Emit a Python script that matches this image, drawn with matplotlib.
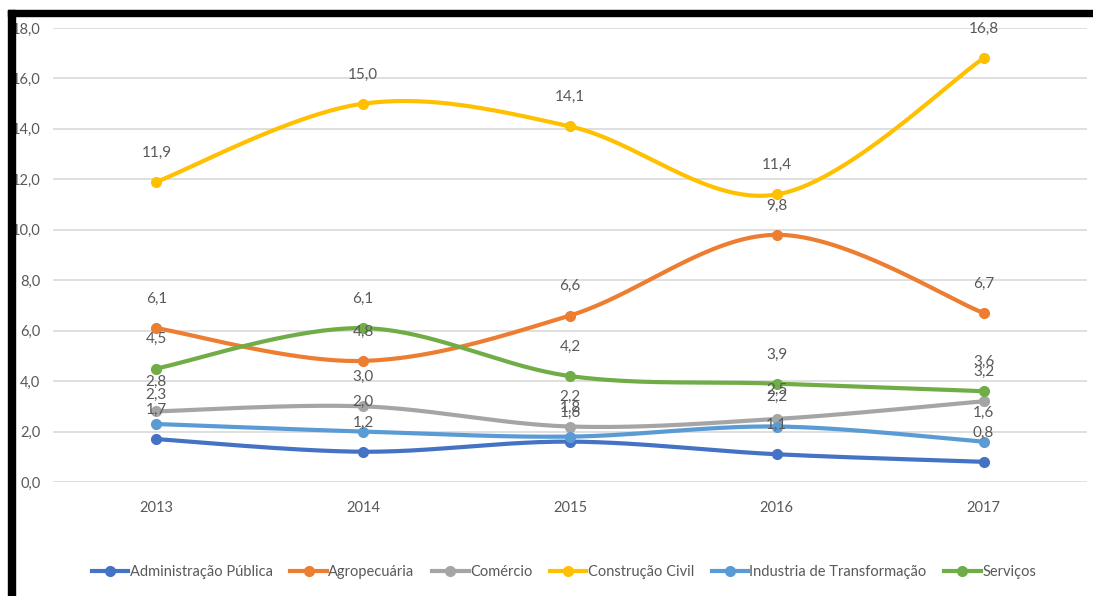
import numpy as np
import matplotlib
matplotlib.use('Agg')
import matplotlib.pyplot as plt
from matplotlib.patches import Rectangle
from matplotlib.lines import Line2D

plt.rcParams['font.family'] = ['Lato', 'DejaVu Sans']

years = ['2013', '2014', '2015', '2016', '2017']
admin_publica = [1.7, 1.2, 1.6, 1.1, 0.8]
agropecuaria = [6.1, 4.8, 6.6, 9.8, 6.7]
comercio = [2.8, 3.0, 2.2, 2.5, 3.2]
construcao_civil = [11.9, 15.0, 14.1, 11.4, 16.8]
industria = [2.3, 2.0, 1.8, 2.2, 1.6]
servicos = [4.5, 6.1, 4.2, 3.9, 3.6]

series = [
    ('Administração Pública', admin_publica, '#4472C4'),
    ('Agropecuária', agropecuaria, '#ED7D31'),
    ('Comércio', comercio, '#A5A5A5'),
    ('Construção Civil', construcao_civil, '#FFC000'),
    ('Industria de Transformação', industria, '#5B9BD5'),
    ('Serviços', servicos, '#70AD47'),
]

text_color = '#595959'


def smooth(x, y, n=40):
    # excel-like smoothed line: cubic bezier with catmull-rom control points
    x = np.asarray(x, float)
    y = np.asarray(y, float)
    px = np.concatenate([[x[0]], x, [x[-1]]])
    py = np.concatenate([[y[0]], y, [y[-1]]])
    xs, ys = [], []
    t = np.linspace(0, 1, n)
    for i in range(1, len(px) - 2):
        p0 = np.array([px[i], py[i]])
        p3 = np.array([px[i + 1], py[i + 1]])
        c1 = p0 + (np.array([px[i + 1], py[i + 1]]) - np.array([px[i - 1], py[i - 1]])) / 6
        c2 = p3 - (np.array([px[i + 2], py[i + 2]]) - np.array([px[i], py[i]])) / 6
        b = ((1 - t) ** 3)[:, None] * p0 + (3 * (1 - t) ** 2 * t)[:, None] * c1 \
            + (3 * (1 - t) * t ** 2)[:, None] * c2 + (t ** 3)[:, None] * p3
        xs.extend(b[:, 0])
        ys.extend(b[:, 1])
    return np.array(xs), np.array(ys)


fig = plt.figure(figsize=(10.93, 5.96), dpi=100)
ax = fig.add_axes([53 / 1093, 1 - 482 / 596, (1087 - 53) / 1093, (482 - 28) / 596])

x = np.arange(len(years))
handles = []
for name, vals, color in series:
    sx, sy = smooth(x, vals)
    ax.plot(sx, sy, color=color, lw=3, solid_capstyle='round', zorder=3)
    ax.plot(x, vals, 'o', color=color, ms=7, zorder=4)
    for xi, v in zip(x, vals):
        ax.annotate(f'{v:.1f}'.replace('.', ','), (xi, v), xytext=(0, 21),
                    textcoords='offset points', ha='center', va='center',
                    fontsize=11, color=text_color, zorder=5)
    handles.append(Line2D([0], [0], color=color, lw=3, marker='o', ms=7))

ax.set_xlim(-0.5, 4.5)
ax.set_ylim(0, 18)
ax.set_yticks(np.arange(0, 18.1, 2))
ax.set_yticklabels([f'{v:.1f}'.replace('.', ',') for v in np.arange(0, 18.1, 2)])
ax.set_xticks(x)
ax.set_xticklabels(years)
ax.grid(axis='y', color='#D9D9D9', lw=1.2)
ax.set_axisbelow(True)
for s in ax.spines.values():
    s.set_visible(False)
ax.tick_params(axis='both', length=0, labelsize=10.5, colors=text_color)
ax.tick_params(axis='y', pad=9)
ax.tick_params(axis='x', pad=14)

fig.legend(handles, [s[0] for s in series], loc='center', ncol=6,
           bbox_to_anchor=(0.516, 1 - 572 / 596), frameon=False,
           fontsize=10.5, labelcolor=text_color, handlelength=2.5,
           handletextpad=0.1, columnspacing=1.2)

# black frame on top and left
fig.patches.append(Rectangle((8 / 1093, 1 - 16 / 596), 1 - 8 / 1093, 6 / 596,
                             transform=fig.transFigure, color='black', zorder=10))
fig.patches.append(Rectangle((8 / 1093, 0), 7 / 1093, 1 - 10 / 596,
                             transform=fig.transFigure, color='black', zorder=10))

fig.savefig('out.png', dpi=100)
